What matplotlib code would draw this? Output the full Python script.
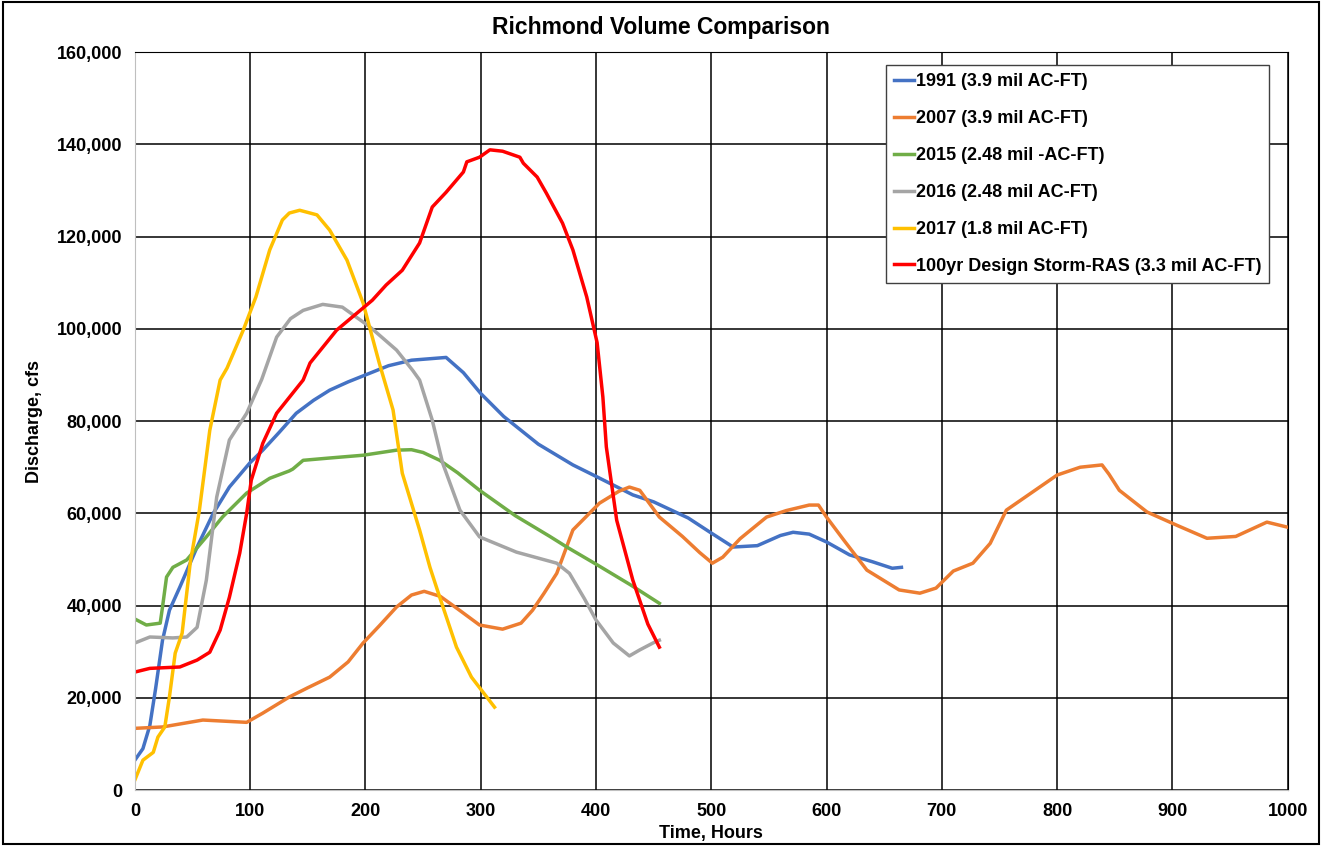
import matplotlib.pyplot as plt
from matplotlib.ticker import FuncFormatter

plt.rcParams['font.family'] = ['Liberation Sans', 'DejaVu Sans']
plt.rcParams['font.weight'] = 'bold'

# 1991 (3.9 mil AC-FT)
t_1991 = [0, 7, 13, 18, 24, 30, 39, 54, 68, 82, 100, 111, 125, 140, 155, 169, 185, 200,
          220, 240, 255, 270, 285, 300, 320, 350, 380, 401, 432, 450, 480, 499, 519,
          540, 560, 571, 585, 600, 620, 640, 657, 665]
q_1991 = [6500, 9000, 14000, 22000, 32500, 39000, 44000, 52700, 60000, 65700, 71000, 73700,
          77500, 81700, 84500, 86700, 88500, 90000, 92000, 93200, 93500, 93800, 90500, 86000,
          81000, 75000, 70500, 67900, 64000, 62500, 59000, 55900, 52700, 53000, 55200, 55900,
          55500, 53800, 51000, 49500, 48100, 48300]

# 2007 (3.9 mil AC-FT)
t_2007 = [0, 24, 59, 97, 111, 134, 150, 169, 185, 198, 212, 227, 240, 251, 265, 280, 299,
          319, 335, 345, 355, 366, 380, 403, 420, 429, 438, 455, 475, 490, 501, 510, 525,
          548, 565, 585, 593, 600, 615, 635, 663, 681, 695, 710, 727, 742, 756, 778, 800,
          820, 839, 845, 854, 878, 905, 930, 955, 982, 1000]
q_2007 = [13400, 13700, 15200, 14700, 16700, 20200, 22200, 24500, 27800, 31900, 35600, 39700,
          42300, 43100, 42000, 39300, 35800, 34900, 36200, 39000, 42700, 47000, 56400, 62200,
          64800, 65700, 65000, 59200, 55000, 51500, 49200, 50500, 54500, 59200, 60600, 61800,
          61800, 59200, 54200, 47700, 43400, 42700, 43800, 47500, 49200, 53500, 60700, 64500,
          68300, 70000, 70500, 68500, 65000, 60300, 57300, 54600, 55000, 58100, 57000]

# 2015 (2.48 mil -AC-FT)
t_2015 = [0, 10, 22, 24, 27.5, 33, 45, 62, 76, 97, 117, 134, 137, 146, 169, 198, 227, 240,
          250, 264.5, 280, 299, 330, 360, 374.7, 400, 430, 455]
q_2015 = [37100, 35800, 36200, 39700, 46200, 48300, 49900, 54900, 59200, 64400, 67600, 69200,
          69600, 71500, 72000, 72600, 73700, 73800, 73200, 71500, 68800, 65000, 59500, 55000,
          52700, 49000, 44500, 40500]

# 2016 (2.48 mil AC-FT)
t_2016 = [0, 13, 33, 45, 54, 62, 71, 82, 97, 110, 123, 135, 146, 163, 180, 204, 227, 241,
          247, 258, 267, 282, 299, 331, 366, 377, 390, 400, 415, 429, 438, 451, 455]
q_2016 = [31900, 33200, 33000, 33200, 35300, 45500, 63500, 75900, 81700, 89000, 98200,
          102200, 104000, 105300, 104700, 100400, 95400, 91000, 88900, 80200, 70900, 60700,
          54900, 51600, 49200, 47000, 41500, 36900, 31900, 29100, 30400, 32100, 32500]

# 2017 (1.8 mil AC-FT)
t_2017 = [0, 7, 16, 20, 26, 30, 35, 41, 48, 56, 65, 74, 80, 94, 105, 117, 128, 134, 143,
          158, 169, 184, 198, 212, 224, 232, 247, 256, 264.5, 279, 292, 312]
q_2017 = [2200, 6500, 8200, 11500, 13700, 20200, 29700, 34000, 49200, 60700, 78000, 88900,
          91500, 99700, 106900, 117100, 123600, 125100, 125700, 124700, 121400, 114900,
          105600, 92600, 82400, 68700, 56400, 48300, 41800, 31000, 24500, 18000]

# 100yr Design Storm-RAS (3.3 mil AC-FT)
t_100yr = [0, 13, 39, 54, 65, 74, 82, 91, 97, 101, 111, 123, 146, 152, 175, 206, 218, 232,
           247, 258, 270, 285, 288, 299, 308, 319, 334, 337, 349, 357, 371, 380, 392, 401,
           406, 409, 418, 432, 445, 455]
q_100yr = [25600, 26400, 26700, 28200, 29900, 34700, 41800, 51400, 60000, 67200, 75200,
           81700, 88900, 92600, 99700, 106200, 109500, 112700, 118600, 126400, 129600, 134000,
           136200, 137200, 138800, 138500, 137200, 135900, 132900, 129400, 122900, 117100,
           106900, 97000, 85200, 74400, 58500, 45500, 36000, 31000]

series = [
    (t_1991, q_1991, '#4472C4', '1991 (3.9 mil AC-FT)'),
    (t_2007, q_2007, '#ED7D31', '2007 (3.9 mil AC-FT)'),
    (t_2015, q_2015, '#70AD47', '2015 (2.48 mil -AC-FT)'),
    (t_2016, q_2016, '#A5A5A5', '2016 (2.48 mil AC-FT)'),
    (t_2017, q_2017, '#FFC000', '2017 (1.8 mil AC-FT)'),
    (t_100yr, q_100yr, '#FF0000', '100yr Design Storm-RAS (3.3 mil AC-FT)'),
]

fig = plt.figure(figsize=(13.22, 8.46), dpi=100)
ax = fig.add_axes([0.102, 0.066, 0.872, 0.8725])

for t, q, c, lab in series:
    ax.plot(t, q, color=c, lw=2.5, label=lab, solid_joinstyle='round')

ax.set_xlim(0, 1000)
ax.set_ylim(0, 160000)
ax.set_xticks(range(0, 1001, 100))
ax.set_yticks(range(0, 160001, 20000))
ax.yaxis.set_major_formatter(FuncFormatter(lambda v, p: '{:,.0f}'.format(v)))
ax.grid(True, color='black', lw=1.1)
ax.tick_params(length=0, labelsize=13, pad=9)
for lab in ax.get_xticklabels() + ax.get_yticklabels():
    lab.set_fontweight('bold')
for s in ['left', 'bottom']:
    ax.spines[s].set_color('#BFBFBF')
for s in ['top', 'right']:
    ax.spines[s].set_color('black')

fig.text(0.5, 0.967, 'Richmond Volume Comparison', ha='center', va='center',
         fontsize=16.5, fontweight='bold')
ax.set_xlabel('Time, Hours', fontsize=13, fontweight='bold', labelpad=4)
ax.set_ylabel('Discharge, cfs', fontsize=13, fontweight='bold', labelpad=10)

leg = ax.legend(loc='upper right', bbox_to_anchor=(0.984, 0.982), fontsize=13,
                frameon=True, fancybox=False, edgecolor='#404040', framealpha=1,
                handlelength=1.1, handletextpad=0.1, labelspacing=1.1, borderpad=0.45,
                borderaxespad=0)
leg.get_frame().set_linewidth(1.0)
for txt in leg.get_texts():
    txt.set_fontweight('bold')

fig.patches.append(plt.Rectangle((0.002, 0.002), 0.996, 0.996, transform=fig.transFigure,
                                 fill=False, edgecolor='black', lw=1.5))

plt.savefig('out.png', dpi=100)
